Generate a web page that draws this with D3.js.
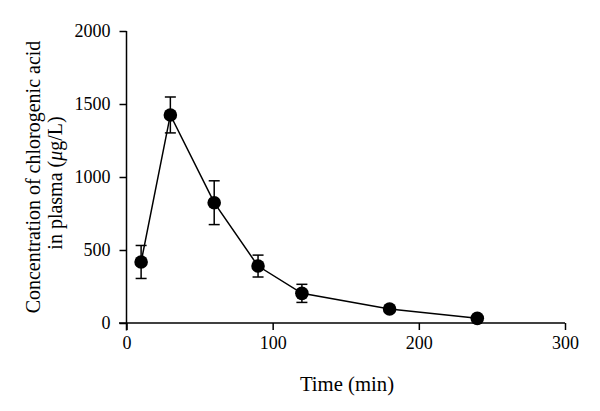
<!DOCTYPE html>
<html><head><meta charset="utf-8">
<script src="https://cdn.jsdelivr.net/npm/d3@7"></script>
<style>body{margin:0;background:#fff}svg{display:block}</style>
</head><body>
<script>
const times = [10, 30, 60, 90, 120, 180, 240];
const conc = [418, 1425, 824, 390, 203, 96, 32];
const errs = [113, 123, 150, 75, 62, 10, 6];
const xTicks = [0, 100, 200, 300];
const yTicks = [0, 500, 1000, 1500, 2000];

const W = 600, H = 411;
const svg = d3.select("body").append("svg").attr("width", W).attr("height", H);
const x = d3.scaleLinear().domain([0, 300]).range([126.5, 565]);
const y = d3.scaleLinear().domain([0, 2000]).range([323, 31]);
const font = "'Liberation Serif', 'Times New Roman', serif";

const gx = svg.append("g").attr("transform", "translate(0,323)")
  .call(d3.axisBottom(x).tickValues(xTicks).tickFormat(d3.format("d")).tickSize(7).tickPadding(6).tickSizeOuter(0));
gx.select(".domain").attr("d", `M${x(0)-7.5},0H${x(300)}`);
const gy = svg.append("g").attr("transform", "translate(126.5,0)")
  .call(d3.axisLeft(y).tickValues(yTicks).tickFormat(d3.format("d")).tickSize(7).tickPadding(9).tickSizeOuter(0));
gy.select(".domain").attr("d", `M0,${y(2000)}V${y(0)+7.5}`);
[gx, gy].forEach(g => {
  g.selectAll("path,line").attr("stroke", "#000").attr("stroke-width", 1.5);
  g.selectAll("text").attr("font-family", font).attr("font-size", 18).attr("fill", "#000");
});

// line
svg.append("path").datum(times.map((t, i) => [t, conc[i]]))
  .attr("d", d3.line().x(d => x(d[0])).y(d => y(d[1])))
  .attr("fill", "none").attr("stroke", "#000").attr("stroke-width", 1.5);

// error bars
const eb = svg.append("g").attr("stroke", "#000").attr("stroke-width", 1.5);
times.forEach((t, i) => {
  const cx = x(t), top = y(conc[i] + errs[i]), bot = y(conc[i] - errs[i]);
  eb.append("line").attr("x1", cx).attr("x2", cx).attr("y1", top).attr("y2", bot);
  eb.append("line").attr("x1", cx - 5.5).attr("x2", cx + 5.5).attr("y1", top).attr("y2", top);
  eb.append("line").attr("x1", cx - 5.5).attr("x2", cx + 5.5).attr("y1", bot).attr("y2", bot);
});

svg.append("g").selectAll("circle").data(times).join("circle")
  .attr("cx", d => x(d)).attr("cy", (d, i) => y(conc[i])).attr("r", 6.8).attr("fill", "#000");

svg.append("text").attr("x", 347).attr("y", 391).attr("text-anchor", "middle")
  .attr("font-family", font).attr("font-size", 20.7).text("Time (min)");

const yl = svg.append("text").attr("transform", "translate(0,177) rotate(-90)")
  .attr("text-anchor", "middle").attr("font-family", font).attr("font-size", 20);
yl.append("tspan").attr("x", 0).attr("y", 40).text("Concentration of chlorogenic acid");
const l2 = yl.append("tspan").attr("x", -6).attr("y", 61.5);
l2.append("tspan").text("in plasma (");
l2.append("tspan").attr("font-style", "italic").text("μ");
l2.append("tspan").text("g/L)");
</script>
</body></html>
